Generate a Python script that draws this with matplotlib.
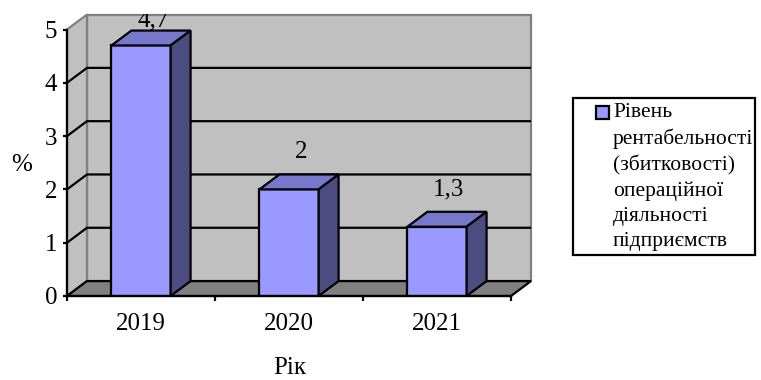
import matplotlib
matplotlib.use("Agg")
import matplotlib.pyplot as plt
from matplotlib.patches import Polygon, Rectangle
from matplotlib.transforms import Bbox, TransformedBbox

plt.rcParams['font.family'] = ['Liberation Serif', 'DejaVu Serif']

years = ['2019', '2020', '2021']
values = [4.7, 2.0, 1.3]
value_labels = ['4,7', '2', '1,3']
yticks = [0, 1, 2, 3, 4, 5]
legend_label = ('Рівень\nрентабельності\n(збитковості)\n'
                'операційної\nдіяльності\nпідприємств')

# colours of the pseudo-3D column chart
front_c = '#9999ff'
top_c = '#7777cc'
side_c = '#4c4c80'
wall_c = '#c0c0c0'
floor_c = '#808080'
fs = 18

fig = plt.figure(figsize=(7.61, 3.80), dpi=100)
W, H = 761, 380
ax = fig.add_axes([67 / W, 84 / H, 444 / W, 266.5 / H])
ax.set_xlim(0, len(years))
ax.set_ylim(0, max(yticks))
ax.patch.set_visible(False)

n = len(years)
ymax = max(yticks)
dx, dy = 0.135, 0.28   # depth offset in data units
lw = 1.6

# back wall, left wall and floor
ax.add_patch(Polygon([(dx, dy), (n + dx, dy), (n + dx, ymax + dy), (dx, ymax + dy)],
                     closed=True, fc=wall_c, ec=floor_c, lw=lw, zorder=0, clip_on=False))
ax.add_patch(Polygon([(0, 0), (dx, dy), (dx, ymax + dy), (0, ymax)],
                     closed=True, fc=wall_c, ec=floor_c, lw=lw, zorder=0, clip_on=False))
ax.add_patch(Polygon([(0, 0), (n, 0), (n + dx, dy), (dx, dy)],
                     closed=True, fc=floor_c, ec='black', lw=lw, zorder=1, clip_on=False))

# gridlines run along the left wall and across the back wall
for v in yticks[1:-1]:
    ax.plot([0, dx, n + dx], [v, v + dy, v + dy], color='black', lw=lw,
            zorder=1, clip_on=False, solid_capstyle='butt')

# columns: front face via bar(), then top and side faces
bw = 0.4
xs = [i + 0.5 for i in range(n)]
ax.bar(xs, values, width=bw, color=front_c, edgecolor='black', lw=lw, zorder=3)
for x, v in zip(xs, values):
    x0, x1 = x - bw / 2, x + bw / 2
    ax.add_patch(Polygon([(x0, v), (x1, v), (x1 + dx, v + dy), (x0 + dx, v + dy)],
                         closed=True, fc=top_c, ec='black', lw=lw, zorder=3, clip_on=False))
    ax.add_patch(Polygon([(x1, 0), (x1 + dx, dy), (x1 + dx, v + dy), (x1, v)],
                         closed=True, fc=side_c, ec='black', lw=lw, zorder=3, clip_on=False))

# value labels above the columns, kept inside the chart area
clip = TransformedBbox(Bbox([[0, 0], [1, (H - 13.5) / H]]), fig.transFigure)
for x, v, s in zip(xs, values, value_labels):
    t = ax.text(x + 0.08, min(v + 0.58, 5.05), s, ha='center', va='baseline',
                fontsize=fs, zorder=5)
    t.set_clip_box(clip)
    t.set_clip_on(True)

# axes
for sp in ['top', 'right']:
    ax.spines[sp].set_visible(False)
for sp in ['left', 'bottom']:
    ax.spines[sp].set_linewidth(lw)
    ax.spines[sp].set_zorder(4)
ax.set_yticks(yticks)
ax.tick_params(axis='y', direction='out', length=3, width=lw, pad=4, labelsize=fs)
ax.set_xticks(range(n + 1))
ax.set_xticks(xs, minor=True)
ax.set_xticklabels(years, minor=True)
ax.tick_params(axis='x', which='major', direction='out', length=3.5, width=lw,
               labelbottom=False)
ax.tick_params(axis='x', which='minor', length=0, pad=12.5, labelsize=fs)

ax.set_ylabel('%', rotation=0, fontsize=fs, va='center', ha='center')
ax.yaxis.set_label_coords(-0.102, 0.49)
ax.set_xlabel('Рік', fontsize=fs, va='center', ha='center')
ax.xaxis.set_label_coords(0.502, -0.27)

# legend box
fig.patches.append(Rectangle((573 / W, 1 - 255 / H), 182 / W, 157 / H,
                             transform=fig.transFigure, fc='white', ec='black', lw=lw))
fig.patches.append(Rectangle((596 / W, 1 - 119 / H), 13 / W, 13 / H,
                             transform=fig.transFigure, fc=front_c, ec='black', lw=lw))
fig.text(613 / W, 1 - 103 / H, legend_label, ha='left', va='top',
         fontsize=15.5, linespacing=1.43)

fig.savefig('out.png', dpi=100)
